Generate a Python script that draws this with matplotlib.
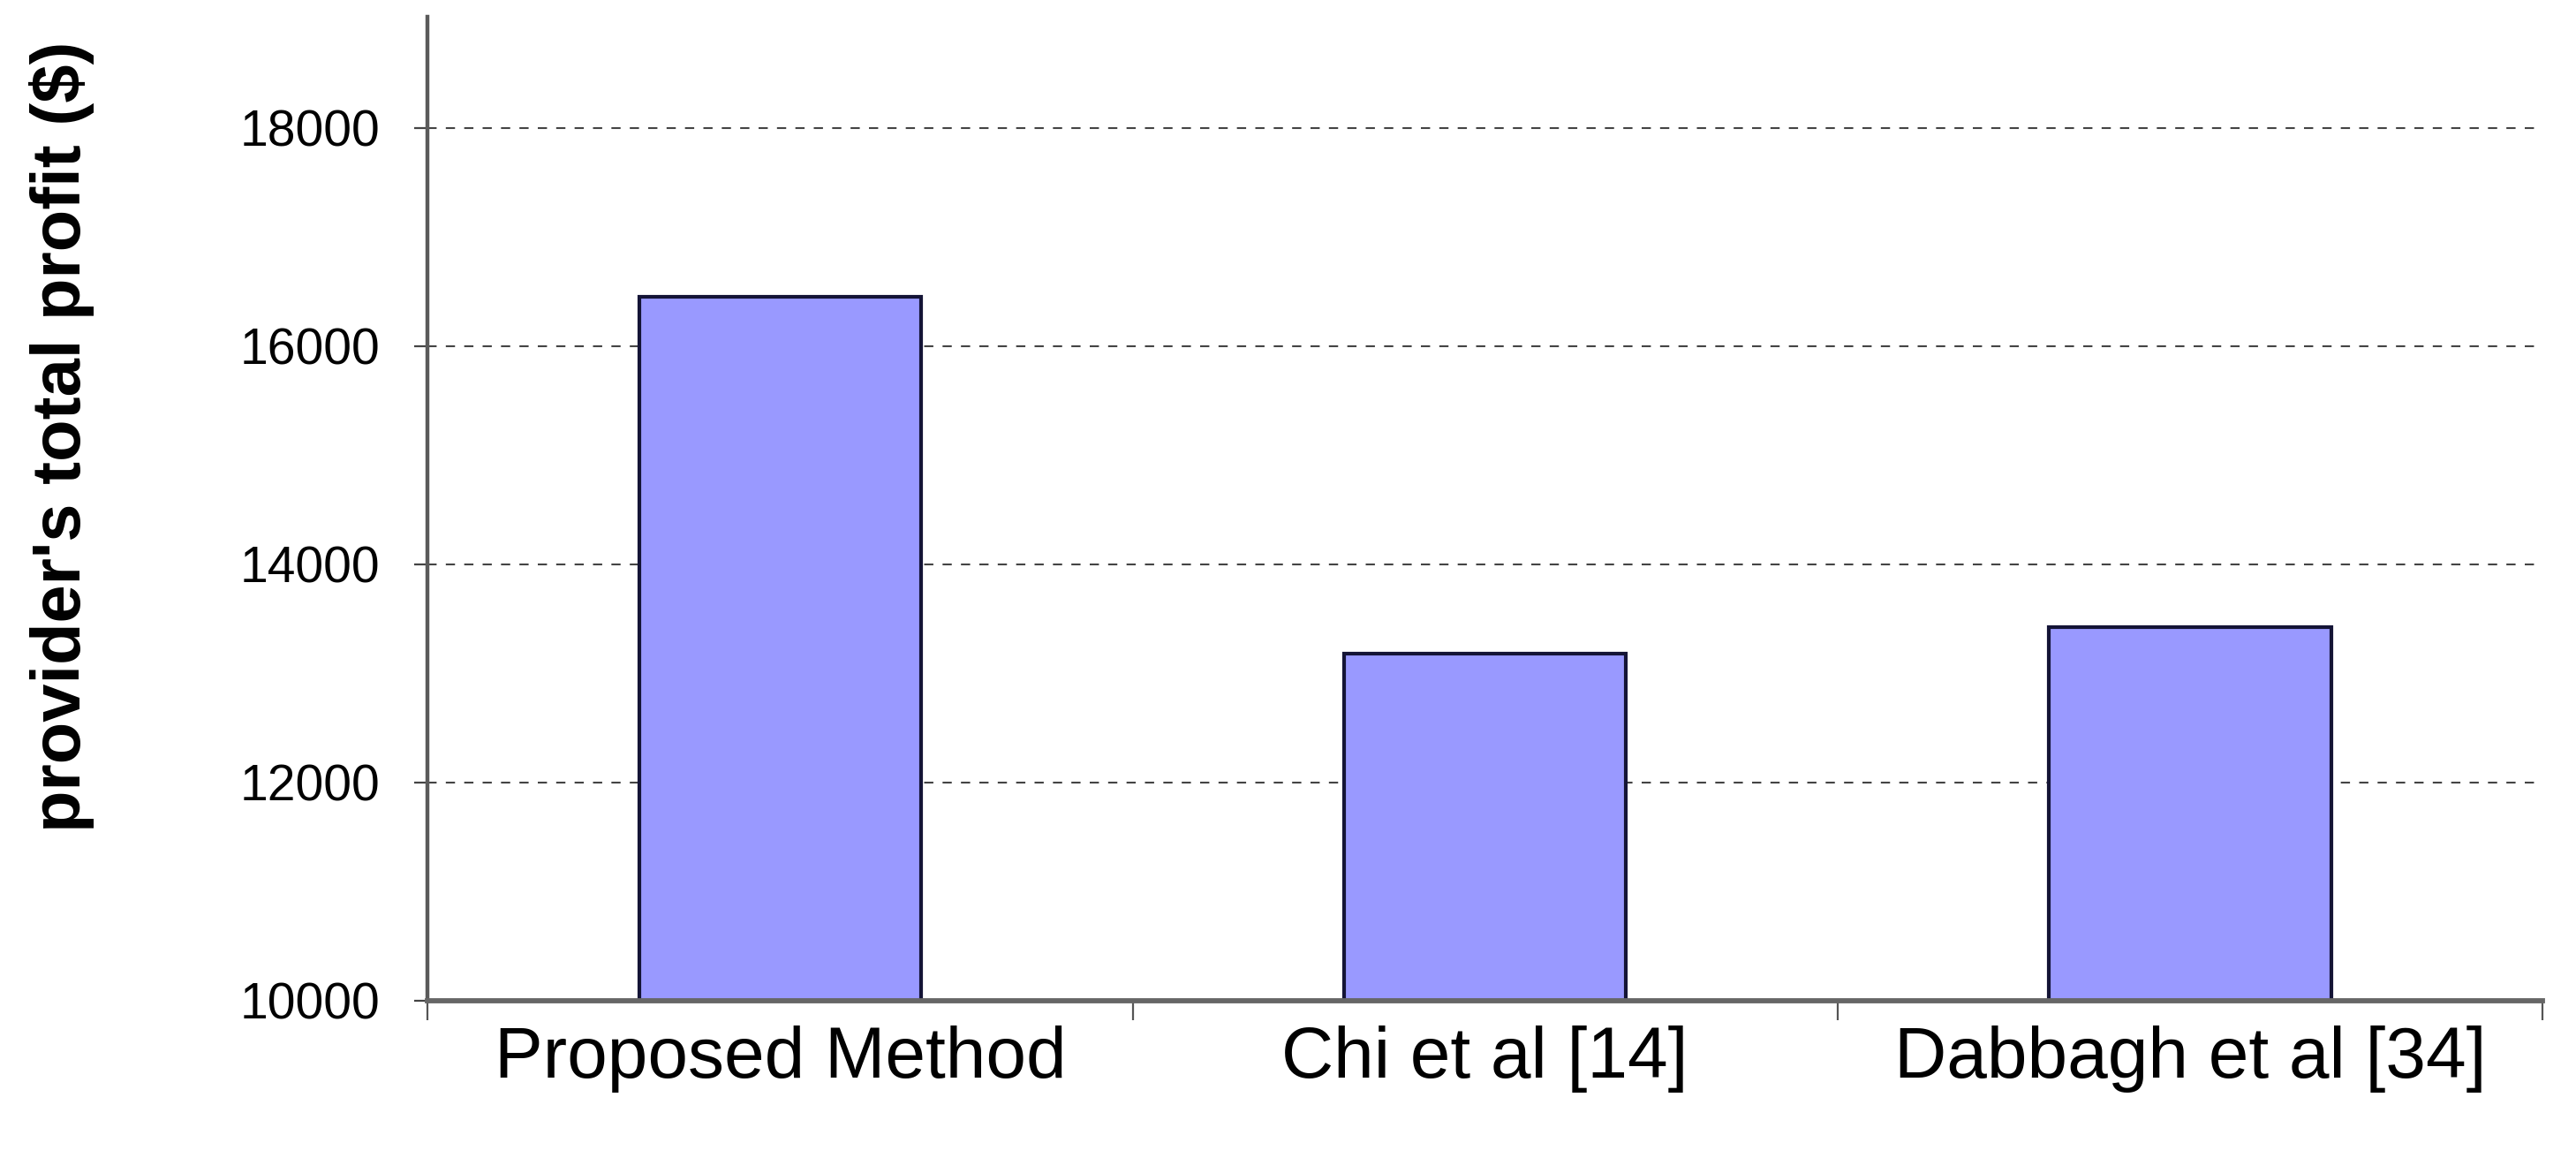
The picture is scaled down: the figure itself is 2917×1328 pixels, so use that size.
import matplotlib
matplotlib.use("Agg")
import matplotlib.pyplot as plt
from matplotlib.ticker import FixedLocator, NullFormatter

categories = ["Proposed Method", "Chi et al [14]", "Dabbagh et al [34]"]
profits = [16450, 13180, 13420]
yticks = [10000, 12000, 14000, 16000, 18000]

plt.rcParams['font.family'] = ['Liberation Sans', 'DejaVu Sans']

fig = plt.figure(figsize=(29.17, 13.28), dpi=100)
ax = fig.add_axes([0.166, 0.147, 0.821, 0.839])

x = list(range(len(categories)))
ax.bar(x, profits, width=0.40, color="#9999FF", edgecolor="#141436",
       linewidth=3.0, zorder=3)

ax.set_xlim(-0.5, len(categories) - 0.5)
ax.set_ylim(10000, 19020)
ax.set_yticks(yticks)
ax.set_yticklabels([str(v) for v in yticks], fontsize=41)
ax.yaxis.grid(True, linestyle=(0, (5, 5)), color="#444444", linewidth=1.5, zorder=0)

ax.set_xticks(x)
ax.set_xticklabels(categories, fontsize=59)
ax.xaxis.set_minor_locator(FixedLocator([i - 0.5 for i in range(len(categories) + 1)]))
ax.xaxis.set_minor_formatter(NullFormatter())
ax.tick_params(axis='x', which='major', length=0, pad=20)
ax.tick_params(axis='x', which='minor', length=16, width=1.6, color="#555555", direction='out')
ax.tick_params(axis='y', which='major', length=11, width=1.6, color="#444444", direction='out', pad=28)

for s in ["top", "right"]:
    ax.spines[s].set_visible(False)
ax.spines["left"].set_color("#5a5a5a")
ax.spines["left"].set_linewidth(3.2)
ax.spines["bottom"].set_color("#666666")
ax.spines["bottom"].set_linewidth(4.2)
ax.spines["bottom"].set_zorder(4)

fig.text(0.024, 0.628, "provider's total profit ($)", rotation=90, fontsize=56,
         fontweight='bold', ha='center', va='center')

fig.savefig("out.png", dpi=100, facecolor="white")
